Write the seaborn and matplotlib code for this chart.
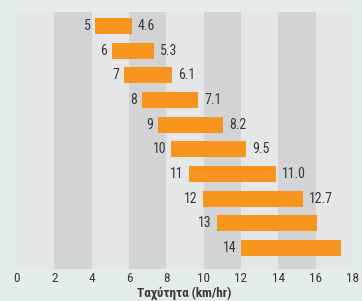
import numpy as np
import matplotlib
matplotlib.use('Agg')
import matplotlib.pyplot as plt
import seaborn as sns

# data
categories = ['5', '6', '7', '8', '9', '10', '11', '12', '13', '14']
starts = [4.2, 5.1, 5.75, 6.7, 7.55, 8.25, 9.2, 9.95, 10.7, 12.0]
ends = [6.15, 7.35, 8.3, 9.7, 11.05, 12.25, 13.85, 15.3, 16.05, 17.35]
value_labels = ['4.6', '5.3', '6.1', '7.1', '8.2', '9.5', '11.0', '12.7', '', '']

sns.set_style('white')
plt.rcParams['font.family'] = ['Roboto Condensed', 'Roboto', 'DejaVu Sans']

fig = plt.figure(figsize=(3.62, 3.01), dpi=100, facecolor='#e3ece6')
ax = fig.add_axes([17/362, (301-268.7)/301, 336/362, (268.7-12)/301])
ax.set_facecolor('#e5e6e8')

# alternating vertical bands
for x0 in range(2, 18, 4):
    ax.axvspan(x0, x0 + 2, color='#d2d3d5', lw=0, zorder=0)

y = np.arange(len(categories))
widths = np.array(ends) - np.array(starts)
ax.barh(y, widths, left=starts, height=0.65, color='#f7941d', linewidth=0, zorder=2)

for i in range(len(categories)):
    ax.annotate(categories[i], (starts[i], y[i]), xytext=(-3.5, 0), textcoords='offset points',
                ha='right', va='center', fontsize=10, color='#383838')
    if value_labels[i]:
        ax.annotate(value_labels[i], (ends[i], y[i]), xytext=(4.5, 0), textcoords='offset points',
                    ha='left', va='center', fontsize=10, color='#383838')

ax.set_xlim(0, 18)
ax.set_ylim(9.84, -0.57)
ax.set_xticks(range(0, 19, 2))
ax.set_yticks([])
ax.tick_params(axis='x', length=0, pad=2.5, labelsize=9.5, colors='#383838')
for s in ax.spines.values():
    s.set_visible(False)
fig.text(0.508, 0.002, 'Ταχύτητα (km/hr)', ha='center', va='bottom',
         fontsize=9.5, fontweight='bold', color='#383838')

fig.savefig('out.png', dpi=100, facecolor=fig.get_facecolor())
